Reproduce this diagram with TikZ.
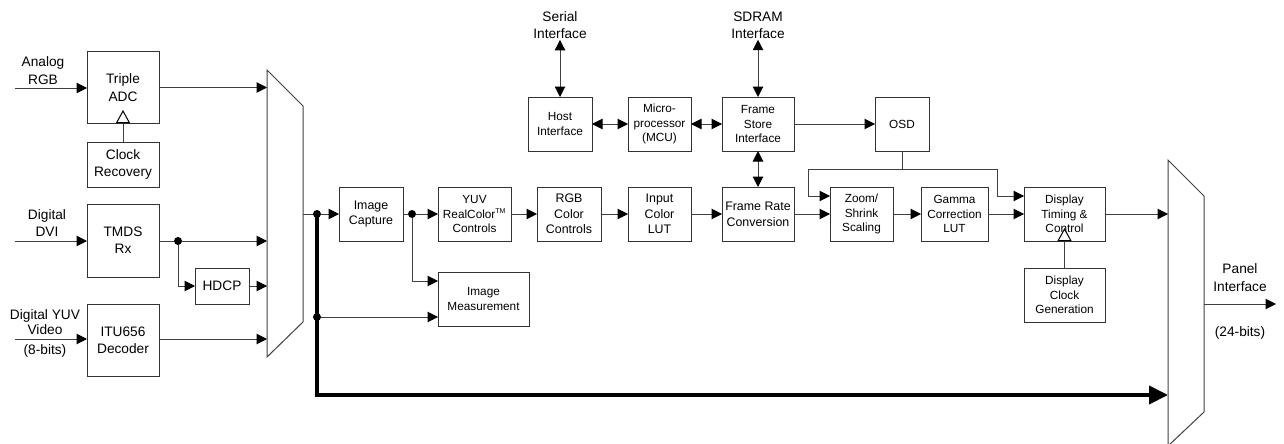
\documentclass[tikz,border=0pt]{standalone}
\usepackage{fontspec}
\setmainfont{Liberation Sans}
\usetikzlibrary{positioning,arrows.meta,calc}

\begin{document}
\begin{tikzpicture}[
  x=1pt,y=-1pt,
  every node/.style={align=center,inner sep=1pt},
  blk/.style={rectangle,draw=black!80,line width=1pt,minimum height=54pt,outer sep=0pt},
  txb/.style={font=\fontsize{13.7}{17.4}\selectfont},
  txm/.style={font=\fontsize{12.4}{15.6}\selectfont},
  txs/.style={font=\fontsize{11.8}{14.3}\selectfont},
  wire/.style={draw=black!75,line width=1pt},
  link/.style={wire,-{Triangle[length=10.5pt,width=10.5pt,black]}},
  dlink/.style={wire,{Triangle[length=10.5pt,width=10.5pt,black]}-{Triangle[length=10.5pt,width=10.5pt,black]}},
  bus/.style={draw=black,line width=4pt,-{Triangle[length=19pt,width=18pt]}},
  clkin/.style={wire,-{Triangle[open,length=13pt,width=14pt,black]},shorten >=-13pt},
  dot/.style={circle,fill=black,inner sep=0pt,minimum size=8pt},
  >=Triangle
]
\useasboundingbox (0,0) rectangle (1284,444);

% input side
\node[blk,txb,minimum width=72pt,minimum height=71pt] (adc) at (123,87.5) {Triple\\ADC};
\node[blk,txb,minimum width=72pt,minimum height=45pt,below=19pt of adc] (crec) {Clock\\Recovery};
\node[blk,txb,minimum width=72pt,minimum height=73pt,below=17pt of crec] (tmds) {TMDS\\Rx};
\node[blk,txb,minimum width=72pt,minimum height=72pt,below=27pt of tmds] (itu) {ITU656\\Decoder};
\node[blk,txb,minimum width=54pt,minimum height=36pt] (hdcp) at (222,286) {HDCP};

\node[txb] (anl) at (43,70.5) {Analog\\RGB};
\node[txb] (dvi) at (47,223) {Digital\\DVI};
\node[font=\fontsize{13.7}{15}\selectfont] (yuvin) at (45,322.5) {Digital YUV\\Video};
\node[txb] (bits8) at (45,351) {(8-bits)};
\coordinate (inA) at (15,88);
\coordinate (inD) at (15,241);
\coordinate (inY) at (15,339);

% input mux
\coordinate (mlt) at (267,70);
\coordinate (mrt) at (303,106);
\coordinate (mrb) at (303,322);
\coordinate (mlb) at (267,357);
\draw[wire] (mlt) -- (mrt) -- (mrb) -- (mlb) -- cycle;
\coordinate (mo) at (303,214);

% main pipeline
\node[blk,txm,minimum width=64pt] (cap) at (371,214) {Image\\Capture};
\node[blk,txs,minimum width=73pt,right=35pt of cap] (yuv) {YUV\\RealColor\textsuperscript{\fontsize{7}{7}\selectfont TM}\\Controls};
\node[blk,txm,minimum width=64pt,right=26pt of yuv] (rgb) {RGB\\Color\\Controls};
\node[blk,txm,minimum width=63pt,right=27pt of rgb] (lut) {Input\\Color\\LUT};
\node[blk,txm,minimum width=72pt,right=31pt of lut] (frc) {Frame Rate\\Conversion};
\node[blk,txs,minimum width=63pt,right=36pt of frc] (zoom) {Zoom/\\Shrink\\Scaling};
\node[blk,txs,minimum width=67pt,right=28pt of zoom] (gam) {Gamma\\Correction\\LUT};
\node[blk,txs,minimum width=81pt,right=36pt of gam] (disp) {Display\\Timing \&\\Control};
\node[blk,txs,minimum width=81pt,below=27pt of disp] (dclk) {Display\\Clock\\Generation};
\node[blk,txs,minimum width=91pt] (meas) at (483.5,299) {Image\\Measurement};

% control row
\node[blk,txs,minimum width=64pt] (host) at (560,124) {Host\\Interface};
\node[blk,txs,minimum width=63pt,right=36pt of host] (mcu) {Micro-\\processor\\(MCU)};
\node[blk,txs,minimum width=72pt,above=36pt of frc] (fsi) {Frame\\Store\\Interface};
\node[blk,txs,minimum width=54pt,right=81pt of fsi] (osd) {OSD};
\node[txb] (ser) at (host |- 0,25) {Serial\\Interface};
\node[txb] (sdr) at (fsi |- 0,25) {SDRAM\\Interface};

% output mux
\coordinate (nlt) at (1168,160);
\coordinate (nrt) at (1204,196);
\coordinate (nrb) at (1204,412);
\coordinate (nlb) at (1168,446);
\draw[wire] (nlt) -- (nrt) -- (nrb) -- (nlb) -- cycle;
\coordinate (busend) at (1168,395);
\coordinate (pout) at (1276,304);
\node[txb] (pnl) at (1240,277.5) {Panel\\Interface};
\node[txb] (b24) at (1240,333) {(24-bits)};

% junctions
\node[dot] (j1) at (178,241) {};
\node[dot] (j2) at (317,214) {};
\node[dot] (j3) at (317,317) {};
\node[dot] (j4) at (412,214) {};

% connections
\draw[link] (inA) -- (inA -| adc.west);
\draw[link] (adc.east) -- (adc.east -| mlt);
\draw[clkin] (crec) -- (adc);
\draw[link] (inD) -- (inD -| tmds.west);
\draw[wire] (tmds.east |- j1) -- (j1);
\draw[link] (j1) -- (j1 -| mlt);
\draw[link] (j1) |- (hdcp.west);
\draw[link] (hdcp.east) -- (hdcp.east -| mlt);
\draw[link] (inY) -- (inY -| itu.west);
\draw[link] (itu.east |- inY) -- (inY -| mlt);

\draw[wire] (mo) -- (j2);
\draw[link] (j2) -- (cap);
\draw[bus] (j2.center) |- (busend);
\draw[link] (j3) -- (j3 -| meas.west);
\draw[wire] (cap) -- (j4);
\draw[link] (j4) -- (yuv);
\draw[link] (j4) |- ([yshift=18pt]meas.west);

\draw[link] (yuv) -- (rgb);
\draw[link] (rgb) -- (lut);
\draw[link] (lut) -- (frc);
\draw[link] (frc) -- (zoom);
\draw[link] (zoom) -- (gam);
\draw[link] (gam) -- (disp);
\draw[link] (disp.east) -- (disp.east -| nlt);
\draw[clkin] (dclk) -- (disp);

\draw[dlink] (ser.south) -- (host.north);
\draw[dlink] (sdr.south) -- (fsi.north);
\draw[dlink] (host) -- (mcu);
\draw[dlink] (mcu) -- (fsi);
\draw[link] (fsi) -- (osd);
\draw[dlink] (fsi) -- (frc);
\draw[wire] (osd.south) -- ++(0,18) coordinate (osdj);
\draw[link] (osdj) -| ([xshift=-22pt,yshift=18pt]zoom.west) -- ([yshift=18pt]zoom.west);
\draw[link] (osdj) -| ([xshift=-27pt,yshift=18pt]disp.west) -- ([yshift=18pt]disp.west);

\draw[link] (nrt |- pout) -- (pout);
\end{tikzpicture}
\end{document}
